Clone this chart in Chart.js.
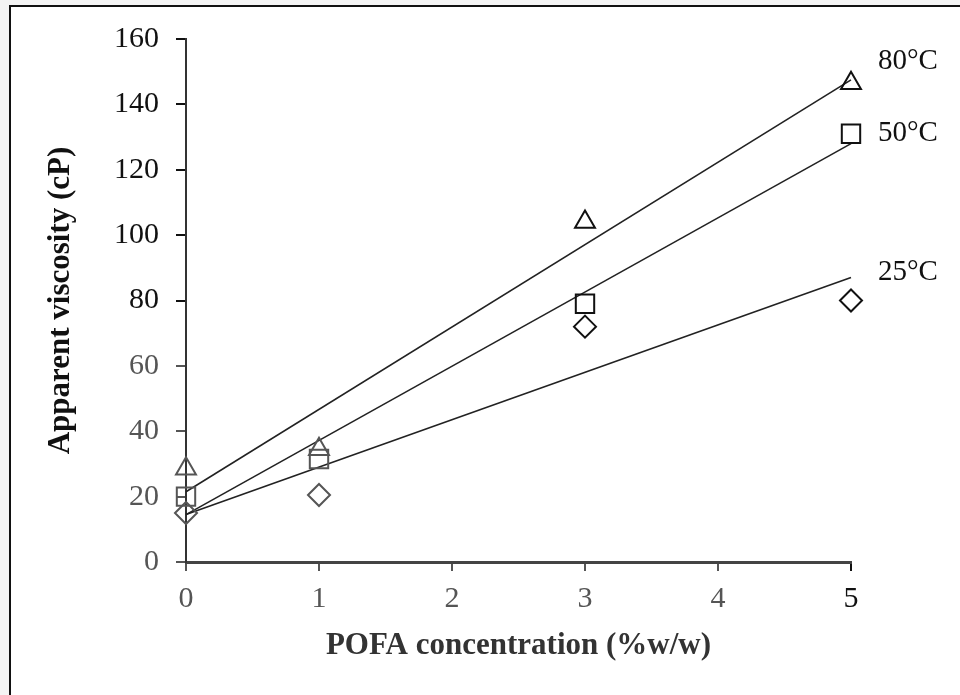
<!DOCTYPE html>
<html>
<head>
<meta charset="utf-8">
<script src="https://cdn.jsdelivr.net/npm/chart.js@4.4.1/dist/chart.umd.min.js"></script>
<style>
  html, body { margin: 0; padding: 0; background: #f4f4f4; }
  #wrap { position: relative; width: 960px; height: 695px; overflow: hidden; }
  #frame { position: absolute; left: 9px; top: 5px; right: -10px; bottom: -10px;
           border: 2px solid #111; background: #fff; }
  #box { position: absolute; left: 0; top: 0; width: 960px; height: 695px; }
</style>
</head>
<body>
<div id="wrap">
  <div id="frame"></div>
  <div id="box"><canvas id="chart"></canvas></div>
</div>
<script>
// POFA concentration (%w/w)
const pofa = [0, 1, 3, 5];

// apparent viscosity (cP) per temperature
const visc80 = [28.5, 34.5, 104, 146.5];
const visc50 = [20, 31.5, 79, 131];
const visc25 = [15, 20.5, 72, 80];

// linear trend lines, value at x = 0 and x = 5
const trendX = [0, 5];
const trend80 = [21.5, 147.5];
const trend50 = [14.5, 128];
const trend25 = [14.5, 87];

const seriesNames = ['80°C', '50°C', '25°C'];
// where each series name sits on the y scale, right of the plot
const nameAt = [153, 131, 88.7];

const yTicks = [0, 20, 40, 60, 80, 100, 120, 140, 160];
const xTicks = [0, 1, 2, 3, 4, 5];

const serif = "'Liberation Serif', 'Times New Roman', serif";

function pts(xs, ys) {
  return xs.map(function(x, i) { return { x: x, y: ys[i] }; });
}
// early points print lighter than the later ones
function shade(xs) {
  return xs.map(function(x) { return x < 2 ? '#555' : '#111'; });
}

function markers(label, ys, style, r) {
  return {
    label: label, type: 'scatter', data: pts(pofa, ys), clip: false,
    pointStyle: style, pointRadius: r, pointHoverRadius: r,
    pointBorderWidth: 2, pointBorderColor: shade(pofa),
    pointBackgroundColor: 'rgba(0,0,0,0)', showLine: false, order: 1
  };
}
function trend(ys) {
  return {
    type: 'line', data: pts(trendX, ys), borderColor: '#222', borderWidth: 1.6,
    pointRadius: 0, fill: false, order: 2, clip: false
  };
}

const seriesLabels = {
  id: 'seriesLabels',
  afterDatasetsDraw(chart) {
    const ctx = chart.ctx, xs = chart.scales.x, ys = chart.scales.y;
    ctx.save();
    ctx.font = '29px ' + serif;
    ctx.fillStyle = '#111';
    ctx.textAlign = 'left';
    ctx.textBaseline = 'middle';
    seriesNames.forEach(function(name, i) {
      ctx.fillText(name, xs.getPixelForValue(5) + 27, ys.getPixelForValue(nameAt[i]));
    });
    ctx.restore();
  }
};

new Chart(document.getElementById('chart'), {
  data: {
    datasets: [
      markers('80°C', visc80, 'triangle', 11.5),
      markers('50°C', visc50, 'rect', 13),
      markers('25°C', visc25, 'rectRot', 11),
      trend(trend80), trend(trend50), trend(trend25)
    ]
  },
  options: {
    responsive: true, maintainAspectRatio: false, animation: false,
    layout: { padding: { top: 39, right: 109, bottom: 0, left: 0 } },
    plugins: { legend: { display: false }, tooltip: { enabled: false } },
    scales: {
      x: {
        type: 'linear', min: 0, max: 5,
        afterBuildTicks: function(s) { s.ticks = xTicks.map(function(v) { return { value: v }; }); },
        afterFit: function(s) { s.height = 133; },
        grid: { drawOnChartArea: false, drawTicks: true, tickLength: 9,
                color: function(c) { return c.tick && c.tick.value === 5 ? '#111' : '#555'; }, lineWidth: 2 },
        border: { display: true, color: '#444', width: 3 },
        ticks: { font: { family: serif, size: 30 }, padding: 10,
                 color: function(c) { return c.tick.value === 5 ? '#111' : '#555'; } },
        title: { display: true, text: 'POFA concentration (%w/w)', color: '#333',
                 font: { family: serif, size: 31, weight: 'bold' }, padding: { top: 0, bottom: 30 } }
      },
      y: {
        type: 'linear', min: 0, max: 160,
        afterBuildTicks: function(s) { s.ticks = yTicks.map(function(v) { return { value: v }; }); },
        afterFit: function(s) { s.width = 186; },
        grid: { drawOnChartArea: false, drawTicks: true, tickLength: 10,
                color: function(c) { return c.tick && c.tick.value >= 80 ? '#111' : '#555'; }, lineWidth: 2 },
        border: { display: true, color: '#333', width: 2 },
        ticks: { font: { family: serif, size: 30 }, padding: 17,
                 color: function(c) { return c.tick.value >= 80 ? '#111' : '#555'; } },
        title: { display: true, text: 'Apparent viscosity (cP)', color: '#111',
                 font: { family: serif, size: 31, weight: 'bold' }, padding: { top: 42, bottom: 0 } }
      }
    }
  },
  plugins: [seriesLabels]
});
</script>
</body>
</html>
